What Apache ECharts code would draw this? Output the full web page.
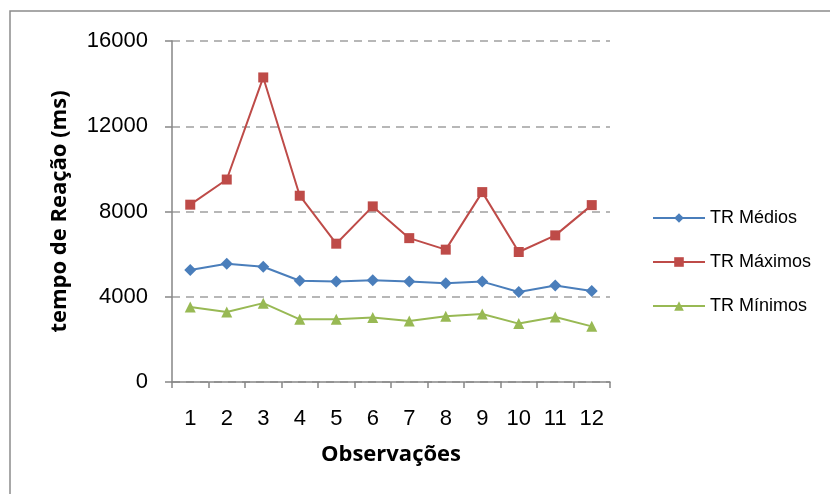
<!DOCTYPE html>
<html><head><meta charset="utf-8">
<script src="https://cdn.jsdelivr.net/npm/echarts@6/dist/echarts.min.js"></script>
<style>html,body{margin:0;padding:0;background:#fff}#c{width:830px;height:494px}</style>
</head><body><div id="c"></div>
<script>
const categories = ['1','2','3','4','5','6','7','8','9','10','11','12'];
const trMedios  = [5250, 5550, 5410, 4750, 4710, 4780, 4710, 4630, 4710, 4220, 4530, 4270];
const trMaximos = [8320, 9500, 14290, 8740, 6490, 8240, 6750, 6210, 8910, 6100, 6880, 8300];
const trMinimos = [3520, 3280, 3700, 2940, 2950, 3030, 2860, 3080, 3190, 2740, 3050, 2610];
const yTicks = [0, 4000, 8000, 12000, 16000];
const seriesNames = ['TR Médios', 'TR Máximos', 'TR Mínimos'];

const chart = echarts.init(document.getElementById('c'), null, {renderer: 'canvas'});
const tickFont = 'Liberation Sans, Arial, sans-serif';
const titleFont = 'Open Sans, DejaVu Sans, sans-serif';
function mk(name, data, color, symbol, size) {
  return {
    name, type: 'line', data, symbol, symbolSize: size,
    lineStyle: {color, width: 2}, itemStyle: {color},
    animation: false
  };
}
chart.setOption({
  animation: false,
  graphic: [{
    type: 'rect', shape: {x: 10, y: 11, width: 840, height: 500},
    style: {fill: 'none', stroke: '#8c8c8c', lineWidth: 1.5}, z: 0
  }],
  grid: {left: 172, right: 220, top: 41, bottom: 112},
  legend: {
    orient: 'vertical', left: 647, top: 204,
    itemWidth: 52, itemHeight: 12, itemGap: 26,
    textStyle: {fontFamily: tickFont, fontSize: 18, color: '#000'},
    data: seriesNames
  },
  xAxis: {
    type: 'category', data: categories, boundaryGap: true,
    name: 'Observações', nameLocation: 'middle', nameGap: 62,
    nameTextStyle: {fontFamily: titleFont, fontWeight: 'bold', fontSize: 22, color: '#000'},
    axisLine: {lineStyle: {color: '#868686', width: 1.5}},
    axisTick: {show: true, length: 6, lineStyle: {color: '#868686', width: 1.5}},
    axisLabel: {fontFamily: tickFont, fontSize: 22, color: '#000', margin: 26}
  },
  yAxis: {
    type: 'value', min: yTicks[0], max: yTicks[yTicks.length-1], interval: 4000,
    name: 'tempo de Reação (ms)', nameLocation: 'middle', nameGap: 101, nameRotate: 90,
    nameTextStyle: {fontFamily: titleFont, fontWeight: 'bold', fontSize: 22, color: '#000'},
    axisLine: {show: true, lineStyle: {color: '#868686', width: 1.5}},
    axisTick: {show: true, length: 7, lineStyle: {color: '#868686', width: 1.5}},
    axisLabel: {fontFamily: tickFont, fontSize: 22, color: '#000', margin: 24,
      formatter: v => String(v)},
    splitLine: {lineStyle: {color: '#a0a0a0', type: [8, 6], width: 1.5}}
  },
  series: [
    mk(seriesNames[0], trMedios, '#4a7ebb', 'diamond', 12),
    mk(seriesNames[1], trMaximos, '#be4b48', 'rect', 10),
    mk(seriesNames[2], trMinimos, '#98b954', 'triangle', 11)
  ]
});
</script></body></html>
